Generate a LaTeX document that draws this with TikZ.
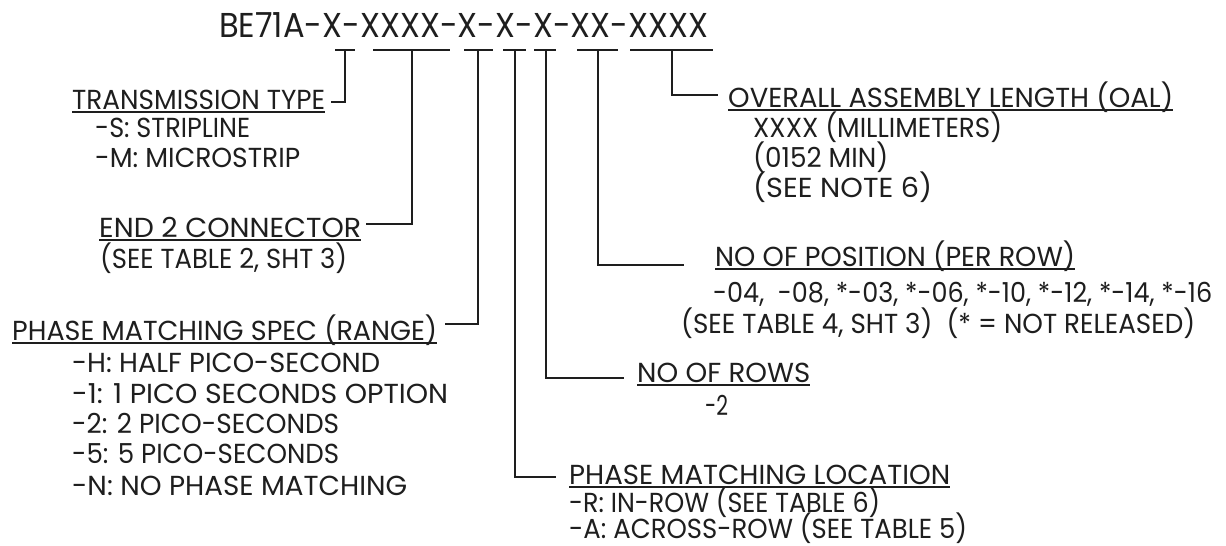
\documentclass[tikz,border=0pt]{standalone}
\usepackage{graphicx}
\usepackage{fontspec}
\setmainfont{Poppins}
\definecolor{ink}{HTML}{1E1E1E}
\newlength\fitlen
\newcommand\fitto[2]{\settowidth\fitlen{#2}\pgfmathsetmacro\fitf{#1/\fitlen}\scalebox{\fitf}[1]{#2}}
\begin{document}
\begin{tikzpicture}[x=1pt,y=-1pt,
  lbl/.style={anchor=base west, inner sep=0pt, font=\fontsize{27.5}{27.5}\selectfont, text=ink},
  ttl/.style={anchor=base west, inner sep=0pt, font=\fontsize{34.5}{34.5}\selectfont, text=ink},
  ln/.style={line width=1.3pt, draw=ink},
  ul/.style={line width=1.2pt, draw=ink}]
\useasboundingbox (0,0) rectangle (1226,546);
\fill[white] (0,0) rectangle (1226,546);

% title
\node[ttl] (title) at (219,37) {\fitto{489}{BE71A-X-XXXX-X-X-X-XX-XXXX}};

% left labels
\node[lbl] (tt)  at (72,109) {\fitto{253}{TRANSMISSION TYPE}};
\node[lbl] (tt1) at (95,137) {\fitto{155}{-S: STRIPLINE}};
\node[lbl] (tt2) at (95,167) {\fitto{205}{-M: MICROSTRIP}};

\node[lbl] (e2)  at (99,237) {\fitto{262}{END 2 CONNECTOR}};
\node[lbl] (e21) at (100,268) {\fitto{247}{(SEE TABLE 2, SHT 3)}};

\node[lbl] (ps)  at (12,340) {\fitto{425}{PHASE MATCHING SPEC (RANGE)}};
\node[lbl] (ps1) at (72,372) {\fitto{308}{-H: HALF PICO-SECOND}};
\node[lbl] (ps2) at (72,403) {\fitto{376}{-1: 1 PICO SECONDS OPTION}};
\node[lbl] (ps3) at (72,433) {\fitto{267}{-2: 2 PICO-SECONDS}};
\node[lbl] (ps4) at (72,463) {\fitto{267}{-5: 5 PICO-SECONDS}};
\node[lbl] (ps5) at (72,495) {\fitto{335}{-N: NO PHASE MATCHING}};

% right labels
\node[lbl] (oal)  at (728,107) {\fitto{445}{OVERALL ASSEMBLY LENGTH (OAL)}};
\node[lbl] (oal1) at (753,137) {\fitto{249}{XXXX (MILLIMETERS)}};
\node[lbl] (oal2) at (753,167) {\fitto{135}{(0152 MIN)}};
\node[lbl] (oal3) at (753,197) {\fitto{179}{(SEE NOTE 6)}};

\node[lbl] (np)  at (715,266) {\fitto{360}{NO OF POSITION (PER ROW)}};
\node[lbl] (np1) at (713,302) {\fitto{499}{-04,\ \ -08, *-03, *-06, *-10, *-12, *-14, *-16}};
\node[lbl] (np2) at (681,333) {\fitto{514}{(SEE TABLE 4, SHT 3)\ \ (* = NOT RELEASED)}};

\node[lbl] (nr)  at (637,382) {\fitto{173}{NO OF ROWS}};
\node[lbl] (nr1) at (705,415) {\fitto{23}{-2}};

\node[lbl] (pl)  at (569,484) {\fitto{381}{PHASE MATCHING LOCATION}};
\node[lbl] (pl1) at (569,512) {\fitto{311}{-R: IN-ROW (SEE TABLE 6)}};
\node[lbl] (pl2) at (569,538) {\fitto{398}{-A: ACROSS-ROW (SEE TABLE 5)}};

% underlines
\foreach \n in {tt,e2,ps,oal,np,nr,pl}
  \draw[ul] ([yshift=-3pt]\n.base west) -- ([yshift=-3pt]\n.base east);

% bracket coordinates
\coordinate (b1l) at (335,50); \coordinate (b1r) at (355,50);
\coordinate (b1t) at (345,50); \coordinate (b1b) at (345,102); \coordinate (b1e) at (331,102);
\coordinate (b2l) at (373,50); \coordinate (b2r) at (450,50);
\coordinate (b2t) at (412,50); \coordinate (b2b) at (412,224); \coordinate (b2e) at (366,224);
\coordinate (b3l) at (464,50); \coordinate (b3r) at (493,50);
\coordinate (b3t) at (478,50); \coordinate (b3b) at (478,324); \coordinate (b3e) at (445,324);
\coordinate (b4l) at (503,50); \coordinate (b4r) at (526,50);
\coordinate (b4t) at (515,50); \coordinate (b4b) at (515,477); \coordinate (b4e) at (556,477);
\coordinate (b5l) at (534,50); \coordinate (b5r) at (556,50);
\coordinate (b5t) at (546,50); \coordinate (b5b) at (546,378); \coordinate (b5e) at (624,378);
\coordinate (b6l) at (577,50); \coordinate (b6r) at (618,50);
\coordinate (b6t) at (598,50); \coordinate (b6b) at (598,265); \coordinate (b6e) at (684,265);
\coordinate (b7l) at (630,50); \coordinate (b7r) at (713,50);
\coordinate (b7t) at (672,50); \coordinate (b7b) at (672,95); \coordinate (b7e) at (718,95);

\foreach \i in {1,...,7}{
  \draw[ln] (b\i l) -- (b\i r);
  \draw[ln] (b\i t) -- (b\i b) -- (b\i e);
}
\end{tikzpicture}
\end{document}
